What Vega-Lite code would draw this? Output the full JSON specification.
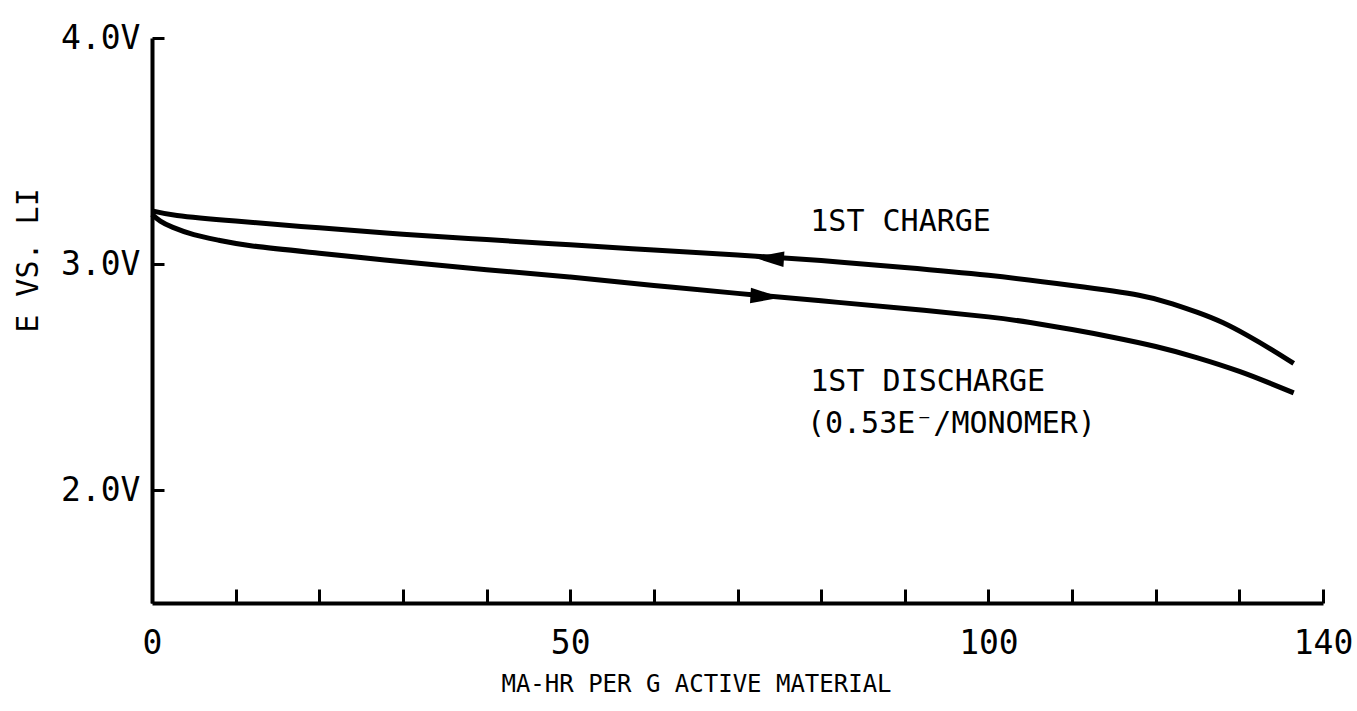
{
  "$schema": "https://vega.github.io/schema/vega-lite/v6.json",
  "width": 1171,
  "height": 565,
  "autosize": "none",
  "padding": {"left": 152, "top": 38, "right": 34, "bottom": 108},
  "background": "white",
  "config": {
    "view": {"stroke": null},
    "font": "DejaVu Sans Mono",
    "axis": {"grid": false}
  },
  "datasets": {
    "curves": [
      {"series": "charge", "mah": 0, "volts": 3.235},
      {"series": "charge", "mah": 3, "volts": 3.215},
      {"series": "charge", "mah": 10, "volts": 3.19},
      {"series": "charge", "mah": 20, "volts": 3.16},
      {"series": "charge", "mah": 30, "volts": 3.132},
      {"series": "charge", "mah": 40, "volts": 3.108},
      {"series": "charge", "mah": 50, "volts": 3.085},
      {"series": "charge", "mah": 60, "volts": 3.062},
      {"series": "charge", "mah": 70, "volts": 3.04},
      {"series": "charge", "mah": 80, "volts": 3.015},
      {"series": "charge", "mah": 90, "volts": 2.985},
      {"series": "charge", "mah": 100, "volts": 2.95},
      {"series": "charge", "mah": 110, "volts": 2.905},
      {"series": "charge", "mah": 118, "volts": 2.862},
      {"series": "charge", "mah": 122, "volts": 2.824},
      {"series": "charge", "mah": 125, "volts": 2.786},
      {"series": "charge", "mah": 128, "volts": 2.741},
      {"series": "charge", "mah": 131, "volts": 2.683},
      {"series": "charge", "mah": 134, "volts": 2.618},
      {"series": "charge", "mah": 136.5, "volts": 2.56},
      {"series": "discharge", "mah": 0, "volts": 3.22},
      {"series": "discharge", "mah": 1, "volts": 3.19},
      {"series": "discharge", "mah": 2.5, "volts": 3.162},
      {"series": "discharge", "mah": 5, "volts": 3.13},
      {"series": "discharge", "mah": 8, "volts": 3.105},
      {"series": "discharge", "mah": 12, "volts": 3.08},
      {"series": "discharge", "mah": 20, "volts": 3.048},
      {"series": "discharge", "mah": 30, "volts": 3.01},
      {"series": "discharge", "mah": 40, "volts": 2.975},
      {"series": "discharge", "mah": 50, "volts": 2.942},
      {"series": "discharge", "mah": 60, "volts": 2.905},
      {"series": "discharge", "mah": 70, "volts": 2.87},
      {"series": "discharge", "mah": 80, "volts": 2.837},
      {"series": "discharge", "mah": 90, "volts": 2.803},
      {"series": "discharge", "mah": 100, "volts": 2.766},
      {"series": "discharge", "mah": 105, "volts": 2.741},
      {"series": "discharge", "mah": 110, "volts": 2.71},
      {"series": "discharge", "mah": 115, "volts": 2.675},
      {"series": "discharge", "mah": 120, "volts": 2.635},
      {"series": "discharge", "mah": 125, "volts": 2.585},
      {"series": "discharge", "mah": 130, "volts": 2.525},
      {"series": "discharge", "mah": 133.5, "volts": 2.475},
      {"series": "discharge", "mah": 136.5, "volts": 2.43}
    ],
    "arrows": [
      {"series": "charge", "mah": 73.7, "volts": 3.025},
      {"series": "discharge", "mah": 73.4, "volts": 2.856}
    ],
    "notes": [
      {"label": "1ST CHARGE", "mah": 78.7, "volts": 3.186},
      {"label": "1ST DISCHARGE", "mah": 78.7, "volts": 2.478},
      {"label": "(0.53E⁻/MONOMER)", "mah": 78.3, "volts": 2.292}
    ]
  },
  "layer": [
    {
      "data": {"name": "curves"},
      "mark": {"type": "line", "color": "black", "strokeWidth": 5, "interpolate": "natural"},
      "encoding": {
        "x": {
          "field": "mah",
          "type": "quantitative",
          "scale": {"domain": [0, 140], "nice": false, "zero": false},
          "axis": {
            "values": [0, 10, 20, 30, 40, 50, 60, 70, 80, 90, 100, 110, 120, 130, 140],
            "labelExpr": "(datum.value == 0 || datum.value == 50 || datum.value == 100 || datum.value == 140) ? datum.label : ''",
            "labelOverlap": false,
            "labelFlush": false,
            "labelFontSize": 33,
            "labelColor": "black",
            "labelPadding": 38,
            "domainColor": "black",
            "domainWidth": 4,
            "tickColor": "black",
            "tickWidth": 3,
            "tickSize": -14,
            "title": "MA-HR PER G ACTIVE MATERIAL",
            "titleFontSize": 24,
            "titleFontWeight": "normal",
            "titleColor": "black",
            "titleX": 544,
            "titleY": 88,
            "titleAlign": "center",
            "titleBaseline": "alphabetic"
          }
        },
        "y": {
          "field": "volts",
          "type": "quantitative",
          "scale": {"domain": [1.5, 4.0], "nice": false, "zero": false},
          "axis": {
            "values": [2, 3, 4],
            "labelExpr": "format(datum.value, '.1f') + 'V'",
            "labelFlush": false,
            "labelFontSize": 33,
            "labelColor": "black",
            "labelPadding": 24,
            "domainColor": "black",
            "domainWidth": 4,
            "tickColor": "black",
            "tickWidth": 3,
            "tickSize": -12,
            "title": "E VS. LI",
            "titleFontSize": 30,
            "titleFontWeight": "normal",
            "titleColor": "black",
            "titleAngle": -90,
            "titleX": -124,
            "titleY": 222,
            "titleAlign": "center",
            "titleBaseline": "middle"
          }
        },
        "detail": {"field": "series", "type": "nominal"}
      }
    },
    {
      "data": {"name": "arrows"},
      "transform": [{"filter": "datum.series == 'charge'"}],
      "mark": {"type": "point", "filled": true, "color": "black", "opacity": 1, "shape": "M -1 0 L 1 -0.5 L 1 0.5 Z", "size": 960, "angle": 3.7, "strokeWidth": 0},
      "encoding": {
        "x": {"field": "mah", "type": "quantitative"},
        "y": {"field": "volts", "type": "quantitative"}
      }
    },
    {
      "data": {"name": "arrows"},
      "transform": [{"filter": "datum.series == 'discharge'"}],
      "mark": {"type": "point", "filled": true, "color": "black", "opacity": 1, "shape": "M 1 0 L -1 -0.5 L -1 0.5 Z", "size": 960, "angle": 3.7, "strokeWidth": 0},
      "encoding": {
        "x": {"field": "mah", "type": "quantitative"},
        "y": {"field": "volts", "type": "quantitative"}
      }
    },
    {
      "data": {"name": "notes"},
      "mark": {"type": "text", "align": "left", "baseline": "middle", "fontSize": 30, "color": "black", "font": "DejaVu Sans Mono"},
      "encoding": {
        "x": {"field": "mah", "type": "quantitative"},
        "y": {"field": "volts", "type": "quantitative"},
        "text": {"field": "label", "type": "nominal"}
      }
    }
  ]
}
